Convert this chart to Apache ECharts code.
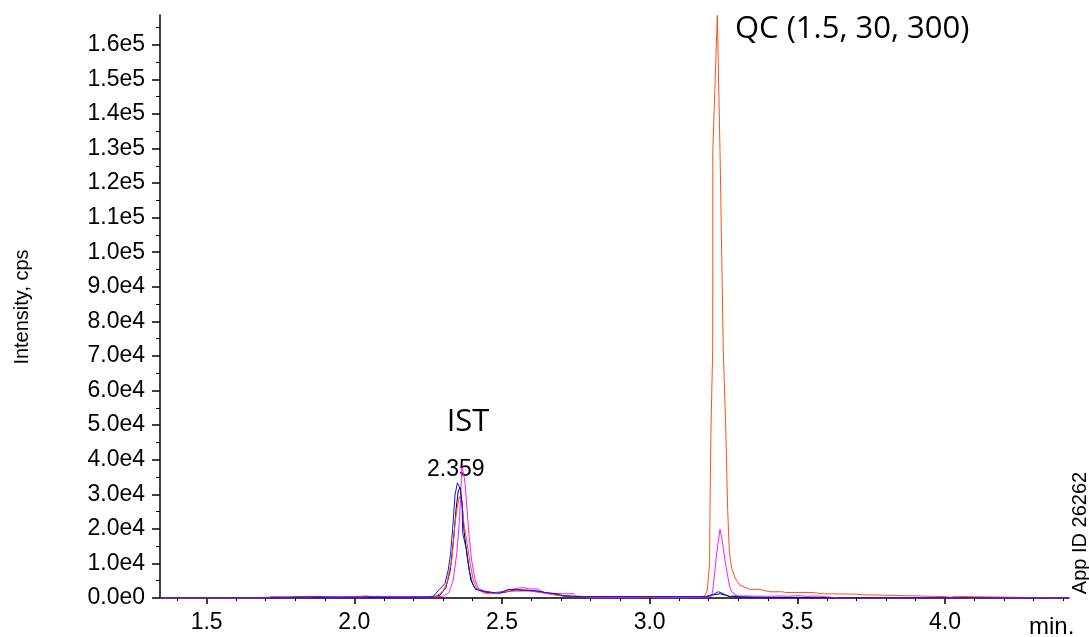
<!DOCTYPE html>
<html>
<head>
<meta charset="utf-8">
<script src="https://cdn.jsdelivr.net/npm/echarts@6/dist/echarts.min.js"></script>
<style>
html, body { margin: 0; padding: 0; background: #fff; }
#chart { width: 1089px; height: 637px; }
</style>
</head>
<body>
<div id="chart"></div>
<script>
// time (min), intensity (cps)
var orangeTrace = [
	[1.342, 0], [1.575, 0], [1.580, 300], [1.585, 0], [1.70, 0], [1.72, 300], [1.76, 200], [1.80, 400],
	[1.84, 200], [1.88, 500], [1.92, 300], [1.96, 200], [2.00, 400], [2.04, 600], [2.08, 300], [2.12, 500],
	[2.16, 300], [2.20, 400], [2.24, 300], [2.279, 600], [2.30, 2000], [2.313, 4200], [2.330, 11000],
	[2.341, 21600], [2.349, 26400], [2.356, 29300], [2.364, 27800], [2.371, 21600], [2.380, 16800],
	[2.392, 10000], [2.403, 5200], [2.414, 2800], [2.437, 1500], [2.459, 1200], [2.493, 1600], [2.53, 2000],
	[2.595, 2000], [2.651, 1300], [2.685, 800], [2.73, 400], [2.80, 300], [2.84, 0], [2.88, 300], [2.95, 200],
	[3.00, 300], [3.05, 200], [3.10, 300], [3.17, 300], [3.1874, 600], [3.1952, 2300], [3.2030, 10000],
	[3.2044, 25400], [3.2078, 49400], [3.2135, 71700], [3.2140, 129500], [3.2291, 168500], [3.2382, 129500],
	[3.2494, 71700], [3.2576, 49400], [3.2643, 25400], [3.2698, 13300], [3.2779, 8600], [3.2891, 5800],
	[3.3061, 3700], [3.3399, 2500], [3.37, 2500], [3.375, 2000], [3.408, 1800], [3.45, 1800], [3.46, 1600],
	[3.55, 1600], [3.587, 1200], [3.62, 1200], [3.70, 1100], [3.722, 900], [3.75, 900], [3.756, 400],
	[4.00, 400], [4.02, 200], [4.04, 500], [4.078, 400], [4.082, 0], [4.42, 0]
];
var magentaTrace = [
	[1.342, 0], [1.70, 0], [1.72, 400], [1.78, 200], [1.84, 500], [1.90, 300], [1.96, 400], [2.02, 200],
	[2.08, 500], [2.14, 300], [2.20, 400], [2.27, 300], [2.30, 500], [2.320, 1500], [2.335, 5200],
	[2.347, 13000], [2.356, 22500], [2.361, 31200], [2.364, 37800], [2.370, 36000], [2.375, 33200],
	[2.380, 27500], [2.389, 17700], [2.397, 11000], [2.409, 5200], [2.420, 2800], [2.437, 2100], [2.47, 1500],
	[2.51, 2000], [2.550, 2800], [2.572, 3000], [2.595, 2600], [2.623, 2600], [2.640, 1500], [2.719, 1200],
	[2.741, 1300], [2.75, 600], [2.80, 300], [2.90, 200], [3.00, 300], [3.10, 200], [3.20, 300], [3.210, 600],
	[3.214, 2500], [3.220, 7000], [3.227, 13000], [3.2382, 19900], [3.245, 17000], [3.255, 11000],
	[3.265, 6000], [3.272, 3000], [3.278, 1800], [3.29, 1000], [3.30, 600], [3.40, 500], [3.45, 600],
	[3.47, 500], [3.50, 700], [3.53, 500], [3.57, 600], [3.60, 300], [3.65, 0], [4.42, 0]
];
var blueTrace = [
	[1.342, 0], [1.72, 0], [1.75, 200], [1.85, 300], [1.95, 200], [2.05, 300], [2.15, 200], [2.25, 300],
	[2.267, 400], [2.284, 2100], [2.307, 4200], [2.318, 8100], [2.326, 12900], [2.333, 20100], [2.341, 29800],
	[2.349, 33300], [2.358, 31700], [2.365, 27400], [2.367, 18700], [2.380, 13900], [2.389, 8100],
	[2.397, 5200], [2.405, 3100], [2.420, 2300], [2.448, 1800], [2.482, 1400], [2.493, 1400], [2.521, 2500],
	[2.538, 2400], [2.595, 2200], [2.629, 1900], [2.651, 1500], [2.685, 1200], [2.708, 600], [2.764, 400],
	[3.10, 400], [3.19, 400], [3.215, 1000], [3.232, 1800], [3.245, 1400], [3.26, 800], [3.27, 400],
	[3.29, 600], [3.30, 300], [3.35, 200], [3.40, 100], [3.50, 0], [4.42, 0]
];
var blackTrace = [
	[1.342, 0], [2.27, 300], [2.29, 800], [2.31, 3000], [2.325, 8000], [2.335, 16000], [2.345, 26000],
	[2.352, 31000], [2.359, 32000], [2.366, 26000], [2.372, 19000], [2.382, 12000], [2.395, 5000],
	[2.41, 2600], [2.44, 1700], [2.50, 1500], [2.55, 2400], [2.62, 2000], [2.70, 700], [2.76, 400],
	[3.19, 400], [3.22, 1000], [3.24, 1200], [3.27, 500], [3.35, 200], [4.42, 0]
];

var xTickValues = [1.5, 2.0, 2.5, 3.0, 3.5, 4.0];
var xMinorValues = [1.4, 1.6, 1.7, 1.8, 1.9, 2.1, 2.2, 2.3, 2.4, 2.6, 2.7, 2.8, 2.9, 3.1, 3.2, 3.3, 3.4, 3.6, 3.7, 3.8, 3.9, 4.1, 4.2, 4.3, 4.4];
var yTickValues = [0, 10000, 20000, 30000, 40000, 50000, 60000, 70000, 80000, 90000, 100000,
	110000, 120000, 130000, 140000, 150000, 160000];

var chart = echarts.init(document.getElementById('chart'));

function sciFn(v) {
	if (v === 0) return '0.0e0';
	var e = Math.floor(Math.log10(v) + 1e-9);
	return (v / Math.pow(10, e)).toFixed(1) + 'e' + e;
}

function lineFn(name, data, color) {
	return {
		name: name,
		type: 'line',
		xAxisIndex: 0,
		data: data,
		showSymbol: false,
		symbol: 'none',
		lineStyle: { color: color, width: 1 },
		silent: true
	};
}

var axisFont = 'Liberation Sans';
var option = {
	backgroundColor: '#fff',
	animation: false,
	grid: { left: 160, right: 20, top: 15, bottom: 39, containLabel: false, outerBoundsMode: 'none' },
	xAxis: [{
		type: 'value',
		position: 'bottom',
		min: 1.342,
		max: 4.42,
		splitLine: { show: false },
		axisLine: { onZero: false, lineStyle: { color: '#000', width: 1.5 } },
		axisTick: { customValues: xTickValues, length: 6, lineStyle: { color: '#000', width: 1.5 } },
		axisLabel: {
			customValues: xTickValues,
			margin: 13,
			color: '#000',
			fontFamily: axisFont,
			fontSize: 23,
			formatter: function(v) { return v.toFixed(1); }
		}
	}, {
		type: 'value',
		position: 'bottom',
		min: 1.342,
		max: 4.42,
		splitLine: { show: false },
		axisLine: { show: false, onZero: false },
		axisTick: { customValues: xMinorValues, length: 3, lineStyle: { color: '#000', width: 1 } },
		axisLabel: { show: false }
	}],
	yAxis: {
		type: 'value',
		min: 0,
		max: 168600,
		interval: 10000,
		splitLine: { show: false },
		axisLine: { show: true, lineStyle: { color: '#000', width: 1.5 } },
		axisTick: { show: true, customValues: yTickValues, length: 8, lineStyle: { color: '#000', width: 1.5 } },
		minorTick: { show: true, splitNumber: 2, length: 4, lineStyle: { color: '#000', width: 1 } },
		axisLabel: {
			customValues: yTickValues,
			margin: 15,
			color: '#000',
			fontFamily: axisFont,
			fontSize: 23,
			formatter: sciFn
		}
	},
	series: [
		lineFn('black', blackTrace, '#000000'),
		lineFn('orange', orangeTrace, '#ff5019'),
		lineFn('magenta', magentaTrace, '#ff19ff'),
		lineFn('blue', blueTrace, '#1010ff')
	],
	graphic: [
		{ type: 'text', x: 735, y: 29, style: { text: 'QC (1.5, 30, 300)', font: '31px "Open Sans"', fill: '#000', align: 'left', verticalAlign: 'middle' } },
		{ type: 'text', x: 468, y: 422, style: { text: 'IST', font: '31px "Open Sans"', fill: '#000', align: 'center', verticalAlign: 'middle' } },
		{ type: 'text', x: 427, y: 470, style: { text: '2.359', font: '23px "Liberation Sans"', fill: '#000', align: 'left', verticalAlign: 'middle' } },
		{ type: 'text', x: 1029, y: 627, style: { text: 'min.', font: '24px "Liberation Sans"', fill: '#000', align: 'left', verticalAlign: 'middle' } },
		{ type: 'text', x: 22, y: 307, rotation: Math.PI / 2, style: { text: 'Intensity, cps', font: '20px "Liberation Sans"', fill: '#000', align: 'center', verticalAlign: 'middle' } },
		{ type: 'text', x: 1080, y: 533, rotation: Math.PI / 2, style: { text: 'App ID 26262', font: '20px "Liberation Sans"', fill: '#000', align: 'center', verticalAlign: 'middle' } }
	]
};
chart.setOption(option);
</script>
</body>
</html>
